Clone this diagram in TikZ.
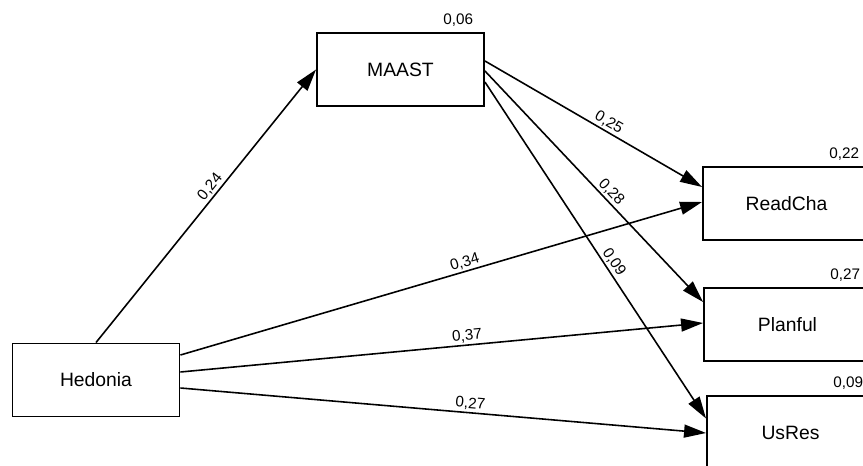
\documentclass[tikz,border=0pt]{standalone}
\usepackage{fontspec}
\setmainfont{Liberation Sans}
\usetikzlibrary{arrows.meta, positioning}
\tikzset{
  every picture/.style={line width=0.85pt},
  var/.style={draw, line width=1.1pt, minimum width=3.34cm, minimum height=1.46cm, font=\fontsize{11}{13}\selectfont},
  arrow/.style={-{Triangle[length=0.44cm, width=0.26cm]}, line width=0.9pt},
  coef/.style={sloped, above, pos=0.55, inner sep=1pt, font=\fontsize{8.7}{10}\selectfont},
  rsq/.style={anchor=base east, inner sep=0pt, font=\fontsize{8.7}{10}\selectfont},
}

\begin{document}
\begin{tikzpicture}[x=0.02cm, y=-0.02cm]
  \clip (0,0) rectangle (863,466);
  % observed variables
  \node[var] (hed) at (96,380) {Hedonia};
  \node[var] (maast) at (400.5,69.5) {MAAST};
  \node[var] (read) at (786.5,203.5) {ReadCha};
  \node[var] (plan) at (787.5,324.5) {Planful};
  \node[var] (usres) at (790.5,432.5) {UsRes};
  % explained variance
  \foreach \n/\r in {maast/{0,06}, read/{0,22}, plan/{0,27}, usres/{0,09}}
    \node[rsq] (r-\n) at ([shift={(-11,-8)}]\n.north east) {\r};
  % paths
  \draw[arrow] (hed.north) -- (maast.west) node[coef] (c-hm) {0,24};
  \foreach \a/\sa/\b/\sb/\v in {maast/-8.5/read/-16.5/{0,25}, maast/1.5/plan/-22.5/{0,28}, maast/12.5/usres/-14/{0,09},
                                hed/-25/read/-1.5/{0,34}, hed/-8/plan/-1.5/{0,37}, hed/8/usres/0.5/{0,27}}
    \draw[arrow] ([shift={(0,\sa)}]\a.east) -- ([shift={(0,\sb)}]\b.west) node[coef] (c-\a-\b) {\v};
\end{tikzpicture}
\end{document}
